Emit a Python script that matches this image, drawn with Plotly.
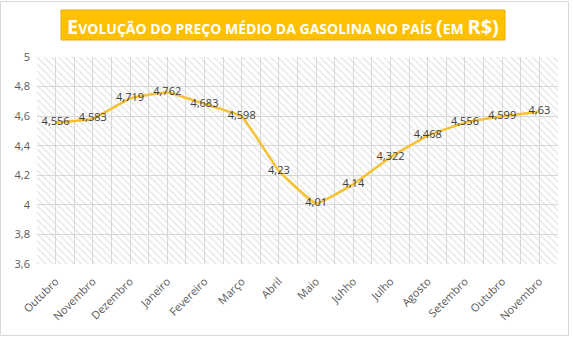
import plotly.graph_objects as go

months = ["Outubro", "Novembro", "Dezembro", "Janeiro", "Fevereiro", "Março", "Abril",
          "Maio", "Juhho", "Julho", "Agosto", "Setembro", "Outubro", "Novembro"]
prices = [4.556, 4.583, 4.719, 4.762, 4.683, 4.598, 4.23, 4.01, 4.14, 4.322, 4.468,
          4.556, 4.599, 4.63]
labels = ["4,556", "4,583", "4,719", "4,762", "4,683", "4,598", "4,23", "4,01", "4,14",
          "4,322", "4,468", "4,556", "4,599", "4,63"]
yticks = [3.6, 3.8, 4.0, 4.2, 4.4, 4.6, 4.8, 5.0]

W, H = 573, 337
L, R, T, B = 37, 558, 57, 264
pw, ph = R - L, B - T

def px(x):
    return (x - L) / pw

def py(y):
    return (B - y) / ph

xs = list(range(len(months)))
ymin, ymax = 3.6, 5.0

fig = go.Figure()
# hatched plot-area background
fig.add_trace(go.Bar(
    x=[(len(months) - 1) / 2], y=[ymax - ymin], base=[ymin], width=[len(months)],
    marker=dict(color="rgba(0,0,0,0)", line=dict(width=0),
                pattern=dict(shape="\\", fgcolor="#d2d2d2", bgcolor="rgba(0,0,0,0)",
                             size=5, solidity=0.3)),
    hoverinfo="skip", showlegend=False))

fig.add_trace(go.Scatter(
    x=xs, y=prices, mode="lines+text", text=labels, textposition="middle center",
    textfont=dict(family="Open Sans", size=11, color="#404040"),
    line=dict(color="#F7C232", width=2.6, shape="spline", smoothing=0.3),
    showlegend=False))

fig.update_layout(
    width=W, height=H, margin=dict(l=L, r=W - R, t=T, b=H - B),
    paper_bgcolor="white", plot_bgcolor="white",
    separators=",.", bargap=0,
    font=dict(family="Open Sans", color="#595959", size=11),
    xaxis=dict(range=[-0.5, len(months) - 0.5], tickvals=xs, ticktext=months,
               tickangle=-45, showgrid=True, gridcolor="#d9d9d9", gridwidth=1,
               zeroline=False, showline=False, ticks="", ticklabelstandoff=8,
               tickfont=dict(size=11, color="#595959"),
               minor=dict(tick0=-0.5, dtick=1, showgrid=True, gridcolor="#d9d9d9",
                          gridwidth=1)),
    yaxis=dict(range=[ymin, ymax], tickvals=yticks, showgrid=True, gridcolor="#d9d9d9",
               gridwidth=1, zeroline=False, showline=False, ticks="",
               ticklabelstandoff=6, tickfont=dict(size=11, color="#595959")),
)

# outer chart border
fig.add_shape(type="rect", xref="paper", yref="paper",
              x0=px(0.5), x1=px(568.5), y0=py(335.5), y1=py(1.5),
              line=dict(color="#d9d9d9", width=1), fillcolor="rgba(0,0,0,0)", layer="below")

# title box
fig.add_shape(type="rect", xref="paper", yref="paper",
              x0=px(61), x1=px(505), y0=py(40), y1=py(10),
              line=dict(color="#E6AC00", width=1), fillcolor="#FFC000", layer="above")

big = "<span style='font-size:20px'>%s</span>"
title = (big % "E") + "VOLUÇÃO DO PREÇO MÉDIO DA GASOLINA NO PAÍS " + (big % "(") + "EM " + \
        (big % "R$") + (big % ")")
fig.add_annotation(xref="paper", yref="paper", x=px(283), y=py(26), showarrow=False,
                   text="<b>" + title + "</b>", xanchor="center", yanchor="middle",
                   font=dict(family="Open Sans", size=14, color="white"))

fig.write_html("out.html")
